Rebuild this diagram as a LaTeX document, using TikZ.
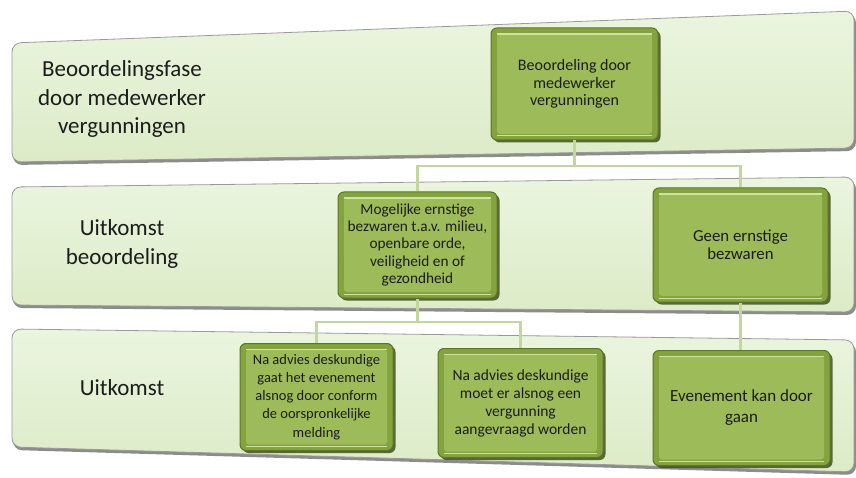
\documentclass[tikz,border=0pt]{standalone}
\usepackage{fontspec}
\setmainfont{Carlito}
\usetikzlibrary{shadows}
\definecolor{bandtop}{HTML}{EBF5DF}
\definecolor{bandbot}{HTML}{DCEBC7}
\definecolor{bandline}{HTML}{9A9A9A}
\definecolor{ring}{HTML}{84A33F}
\definecolor{ringline}{HTML}{5C7626}
\definecolor{face}{HTML}{9DBB59}
\definecolor{facehi}{HTML}{CFE2A2}
\definecolor{boxshadow}{HTML}{3F5020}
\definecolor{connc}{HTML}{C3D69B}
\definecolor{txt}{HTML}{1C1C1C}
\tikzset{
  bandshape/.style={top color=bandtop, bottom color=bandbot, draw=bandline, line width=0.8pt, rounded corners=9pt},
  bandshadow/.style={fill=black!45, rounded corners=9pt},
  bandlabel/.style={align=center, text=txt, font=\fontsize{23}{28.5}\selectfont},
  bevelbox/.style={rectangle, rounded corners=6pt, fill=ring, draw=ringline, line width=1pt,
    align=center, text=txt, inner sep=0pt,
    drop shadow={shadow xshift=2.5pt, shadow yshift=-2.5pt, fill=boxshadow, opacity=0.85},
    path picture={
      \fill[face, rounded corners=3pt] ([xshift=6pt,yshift=-6pt]path picture bounding box.north west) rectangle ([xshift=-6pt,yshift=6pt]path picture bounding box.south east);
      \draw[facehi, line width=1.2pt] ([xshift=6pt,yshift=-6pt]path picture bounding box.north west) -- ([xshift=-6pt,yshift=-6pt]path picture bounding box.north east);
      \draw[facehi, line width=1pt] ([xshift=6pt,yshift=4pt]path picture bounding box.south west) -- ([xshift=-6pt,yshift=4pt]path picture bounding box.south east);
    }},
  conn/.style={draw=connc, line width=2.8pt}
}
\begin{document}
\begin{tikzpicture}[x=1pt,y=-1pt]
\useasboundingbox[fill=white] (0,0) rectangle (856,478);
% bands
\fill[bandshadow] (13,46) -- (856,14) -- (856,151) -- (13,165) -- cycle;
\shade[bandshape] (12,43) -- (854,11) -- (854,148) -- (12,162) -- cycle;
\fill[bandshadow] (13,190) -- (856,180) -- (856,315) -- (13,308) -- cycle;
\shade[bandshape] (12,187) -- (854,177) -- (854,312) -- (12,305) -- cycle;
\fill[bandshadow] (13,332) -- (856,343) -- (856,475) -- (13,450) -- cycle;
\shade[bandshape] (12,329) -- (854,340) -- (854,472) -- (12,447) -- cycle;
% band labels
\node[bandlabel] (L1) at (122,99) {Beoordelingsfase\\door medewerker\\vergunningen};
\node[bandlabel] (L2) at (122,244) {Uitkomst\\beoordeling};
\node[bandlabel] (L3) at (122,388) {Uitkomst};
% boxes
\node[bevelbox, minimum width=167pt, minimum height=112pt, font=\fontsize{16}{17.5}\selectfont] (A) at (574.5,84) {Beoordeling door\\medewerker\\vergunningen};
\node[bevelbox, minimum width=159pt, minimum height=106pt, font=\fontsize{15.3}{17.2}\selectfont] (B) at (417.5,245) {Mogelijke ernstige\\bezwaren t.a.v. milieu,\\openbare orde,\\veiligheid en of\\gezondheid};
\node[bevelbox, minimum width=175pt, minimum height=114pt, font=\fontsize{16.8}{18.5}\selectfont] (C) at (740.5,245) {Geen ernstige\\bezwaren};
\node[bevelbox, minimum width=153pt, minimum height=107pt, font=\fontsize{14.5}{18.2}\selectfont] (D1) at (316.5,397) {Na advies deskundige\\gaat het evenement\\alsnog door conform\\de oorspronkelijke\\melding};
\node[bevelbox, minimum width=165pt, minimum height=109pt, font=\fontsize{15.5}{18}\selectfont] (D2) at (520.5,403) {Na advies deskundige\\moet er alsnog een\\vergunning\\aangevraagd worden};
\node[bevelbox, minimum width=177pt, minimum height=115pt, font=\fontsize{17}{21}\selectfont] (E) at (741.5,408) {Evenement kan door\\gaan};
% connectors
\coordinate (j1) at (574.5,166);
\coordinate (j2) at (417.5,322);
\draw[conn] (A.south) -- (j1);
\draw[conn] (B.north) |- (j1) -| (C.north);
\draw[conn] (B.south) -- (j2);
\draw[conn] (D1.north) |- (j2) -| (D2.north);
\draw[conn] (C.south) -- (C.south |- E.north);
\end{tikzpicture}
\end{document}
